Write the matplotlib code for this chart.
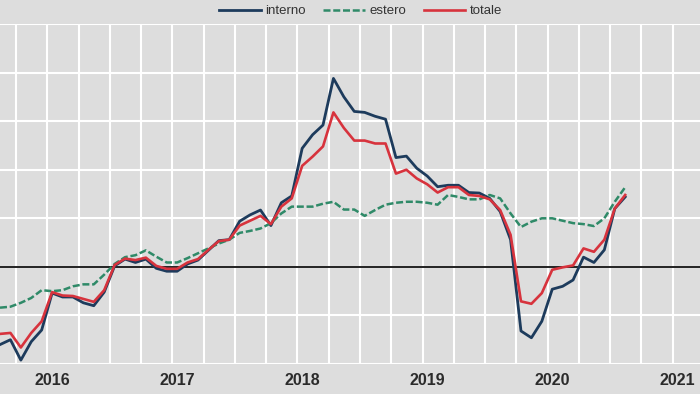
import numpy as np
import matplotlib.pyplot as plt

# monthly data, Feb 2016 .. Feb 2021 (month index 1 = Feb 2016)
months = np.arange(1, 62)
interno = [-8.0, -7.5, -9.6, -7.7, -6.5, -2.7, -3.1, -3.1, -3.7, -4.0, -2.6,
           0.1, 0.8, 0.45, 0.8, -0.15, -0.45, -0.45, 0.3, 0.7, 1.7, 2.7, 2.8,
           4.7, 5.35, 5.85, 4.25, 6.6, 7.3, 12.2, 13.6, 14.6, 19.4, 17.5, 16.0,
           15.9, 15.5, 15.2, 11.25, 11.4, 10.15, 9.35, 8.25, 8.4, 8.4, 7.65,
           7.6, 7.05, 5.7, 2.8, -6.6, -7.3, -5.6, -2.3, -2.0, -1.35, 1.0, 0.45,
           1.75, 6.0, 7.2]
estero = [-4.2, -4.1, -3.7, -3.2, -2.4, -2.5, -2.4, -2.0, -1.8, -1.8, -0.8,
          0.3, 1.0, 1.2, 1.7, 1.05, 0.45, 0.45, 0.9, 1.4, 1.9, 2.4, 2.8,
          3.5, 3.7, 3.95, 4.5, 5.5, 6.2, 6.2, 6.2, 6.5, 6.7, 5.9, 5.9,
          5.25, 5.85, 6.4, 6.6, 6.7, 6.7, 6.6, 6.4, 7.4, 7.2, 6.95,
          6.95, 7.4, 7.05, 5.5, 4.1, 4.65, 5.0, 5.0, 4.75, 4.5, 4.4, 4.2,
          5.0, 6.7, 8.2]
totale = [-6.9, -6.8, -8.3, -6.8, -5.6, -2.6, -2.95, -3.0, -3.3, -3.6, -2.4,
          0.2, 0.85, 0.7, 0.95, 0.1, -0.2, -0.2, 0.45, 0.8, 1.75, 2.65, 2.8,
          4.25, 4.75, 5.25, 4.4, 6.2, 7.05, 10.4, 11.35, 12.4, 15.9, 14.3, 13.0,
          13.0, 12.7, 12.7, 9.6, 10.0, 9.1, 8.5, 7.65, 8.2, 8.2, 7.4,
          7.3, 6.95, 5.85, 3.3, -3.55, -3.8, -2.7, -0.3, -0.05, 0.15, 1.9, 1.55,
          2.8, 6.0, 7.4]
years = ['2016', '2017', '2018', '2019', '2020', '2021']

bg = '#dddddd'
narrow = ['Liberation Sans Narrow', 'Liberation Sans', 'DejaVu Sans']

fig = plt.figure(figsize=(7, 3.94), dpi=100, facecolor=bg)
ax = fig.add_axes([0, 0.0761, 1, 0.863], facecolor=bg)

# quarterly vertical grid, 5-unit horizontal grid
for q in np.arange(0, 72, 3) - 0.45:
    ax.axvline(q, color='white', lw=1.5, zorder=1)
for h in np.arange(-10, 30, 5):
    ax.axhline(h, color='white', lw=1.5, zorder=1)
ax.axhline(0, color='#222222', lw=1.4, zorder=2)

ax.plot(months, interno, color='#1d3b5c', lw=2.0, label='interno', zorder=3)
ax.plot(months, estero, color='#2f8a68', lw=1.8, dashes=(2.8, 1.1),
        label='estero', zorder=3)
ax.plot(months, totale, color='#d7333d', lw=1.9, label='totale', zorder=4)

ax.set_xlim(1.0, 68.18)
ax.set_ylim(-10, 25)
ax.set_xticks(6 + 12 * np.arange(len(years)))
ax.set_xticklabels(years, family=narrow, fontweight='bold', fontsize=11.5,
                   color='#2b2b2b')
ax.set_yticks([])
ax.tick_params(axis='x', length=0, pad=6.5)
for s in ax.spines.values():
    s.set_visible(False)

fig.legend(loc='center', bbox_to_anchor=(0.515, 0.972), ncol=3, frameon=False,
           prop={'family': narrow, 'size': 9.5}, labelcolor='#333333',
           handlelength=3.16, handletextpad=0.3, columnspacing=1.36)

fig.savefig('out.png', dpi=100, facecolor=bg)
